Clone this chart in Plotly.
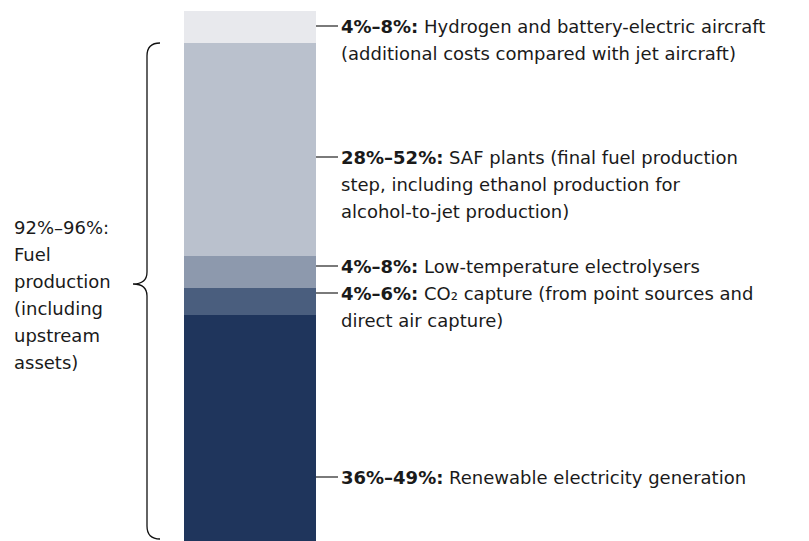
import plotly.graph_objects as go

# ---- data ----
components = ["Renewable electricity generation", "CO2 capture", "Low-temperature electrolysers",
              "SAF plants", "Hydrogen and battery-electric aircraft"]
share_mid = [42.5, 5, 6, 40, 6]          # midpoint of each share range (%)
share_range = ["36%–49%", "4%–6%", "4%–8%", "28%–52%", "4%–8%"]
descriptions = [
    ["Renewable electricity generation"],
    ["CO₂ capture (from point sources and", "direct air capture)"],
    ["Low-temperature electrolysers"],
    ["SAF plants (final fuel production", "step, including ethanol production for", "alcohol-to-jet production)"],
    ["Hydrogen and battery-electric aircraft", "(additional costs compared with jet aircraft)"],
]
group_label = ["92%–96%:", "Fuel", "production", "(including", "upstream", "assets)"]
colors = ["#1f355c", "#4a5e7e", "#8d99ad", "#bac1cd", "#e8e9ed"]

# ---- geometry (layout) ----
W, H = 809, 541
BAR_L, BAR_R = 184, 316
BAR_TOP_PX = 11
total = sum(share_mid)
px_per_unit = (H - BAR_TOP_PX) / total
y_max = H / px_per_unit
bar_w = 1.0
px_per_x = (BAR_R - BAR_L) / bar_w
x0 = -((BAR_L + BAR_R) / 2) / px_per_x
x1 = x0 + W / px_per_x


def px2x(px):
    return x0 + px / px_per_x


def py2y(py):
    return (H - py) / px_per_unit


label_y_px = [477, 293, 266, 157, 26]
LINE_GAP = 27
FONT = "DejaVu Sans"
FS = 18
TXT = "#1a1a1a"

fig = go.Figure()
for name, v, c in zip(components, share_mid, colors):
    fig.add_trace(go.Bar(x=[0], y=[v], width=[bar_w], name=name, marker=dict(color=c, line=dict(width=0)),
                         hoverinfo="name+y"))

shapes = []
annotations = []
for rng, desc, ypx in zip(share_range, descriptions, label_y_px):
    yv = py2y(ypx)
    shapes.append(dict(type="line", xref="x", yref="y", x0=px2x(BAR_R), x1=px2x(338), y0=yv, y1=yv,
                       line=dict(color="#222222", width=1.2)))
    for i, line in enumerate(desc):
        txt = (f"<b>{rng}:</b> " + line) if i == 0 else line
        annotations.append(dict(x=px2x(339), y=yv, xref="x", yref="y", text=txt, showarrow=False,
                                xanchor="left", yanchor="middle", yshift=-LINE_GAP * i,
                                font=dict(family=FONT, size=FS, color=TXT)))

for i, line in enumerate(group_label):
    annotations.append(dict(x=12 / W, y=1 - 227 / H, xref="paper", yref="paper", text=line, showarrow=False,
                            xanchor="left", yanchor="middle", yshift=-LINE_GAP * i,
                            font=dict(family=FONT, size=FS, color=TXT)))

# brace spanning fuel production (all but the aircraft component)
xb = 147
tip_py = 284
top_py = 43
bot_py = 539


def P(px, py):
    return f"{px2x(px):.5f},{py2y(py):.5f}"


path = (f"M {P(160, top_py)} Q {P(xb, top_py)} {P(xb, top_py + 13)} "
        f"L {P(xb, tip_py - 12)} Q {P(xb, tip_py)} {P(133, tip_py)} "
        f"Q {P(xb, tip_py)} {P(xb, tip_py + 12)} "
        f"L {P(xb, bot_py - 13)} Q {P(xb, bot_py)} {P(160, bot_py)}")
shapes.append(dict(type="path", xref="x", yref="y", path=path, line=dict(color="#111111", width=1.3)))

fig.update_layout(
    width=W, height=H, margin=dict(l=0, r=0, t=0, b=0),
    barmode="stack", bargap=0, showlegend=False,
    paper_bgcolor="white", plot_bgcolor="white",
    xaxis=dict(range=[x0, x1], visible=False, fixedrange=True),
    yaxis=dict(range=[0, y_max], visible=False, fixedrange=True),
    shapes=shapes, annotations=annotations,
)
fig.write_html("out.html", config={"displayModeBar": False},
               post_script="document.body.style.margin='0px';document.body.style.overflow='hidden';")
